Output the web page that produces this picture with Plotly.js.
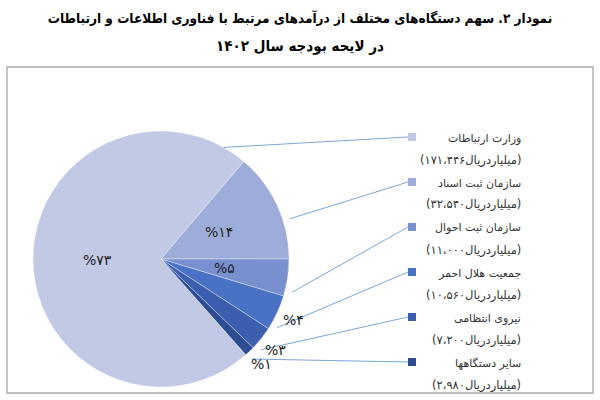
<!DOCTYPE html>
<html>
<head>
<meta charset="utf-8">
<script src="https://cdn.plot.ly/plotly-3.0.1.min.js"></script>
<style>
  html, body { margin: 0; padding: 0; background: #fff; }
  #chart { width: 600px; height: 400px; }
</style>
</head>
<body>
<div id="chart"></div>
<script>
// ------------------------------------------------------------
// data
// ------------------------------------------------------------
const categories = ['وزارت ارتباطات', 'سازمان ثبت اسناد', 'سازمان ثبت احوال', 'جمعیت هلال احمر', 'نیروی انتظامی', 'سایر دستگاهها']
const values = [171446, 32540, 11000, 10560, 7200, 2980]
const valueLabels = ['(۱۷۱،۴۴۶میلیاردریال)', '(۳۲،۵۴۰میلیاردریال)', '(۱۱،۰۰۰میلیاردریال)', '(۱۰،۵۶۰میلیاردریال)', '(۷،۲۰۰میلیاردریال)', '(۲،۹۸۰میلیاردریال)']
const percentLabels = ['%۷۳', '%۱۴', '%۵', '%۴', '%۳', '%۱']

const titleLine1 = 'نمودار ۲. سهم دستگاه‌های مختلف از درآمدهای مرتبط با فناوری اطلاعات و ارتباطات'
const titleLine2 = 'در لایحه بودجه سال ۱۴۰۲'

// ------------------------------------------------------------
// style / geometry
// ------------------------------------------------------------
const W = 600, H = 400
const sliceColors = ['#c1c9e5', '#9eacd9', '#7890d0', '#4a72c4', '#3b5fae', '#2c4c94']
const leaderColor = '#7aa7d6'
const FONT = 'DejaVu Sans, sans-serif'
const TITLE_FONT = 'DejaVu Sans Condensed, DejaVu Sans, sans-serif'
const cx = 161, cy = 259, R = 128   // pie centre / radius in pixels
const rotation = 138.5             // start angle of first slice (clockwise from 12 o'clock)
const insideSlices = 3             // first n slices carry their % inside

const px = x => x / W
const py = y => 1 - y / H

// slice angles (degrees, clockwise from top) — same maths plotly uses
const total = values.reduce((a, b) => a + b, 0)
let acc = rotation
const sliceAngles = values.map(v => {
    const a0 = acc
    acc += v / total * 360
    return [a0, acc]
})
const pointAt = (deg, r) => {
    const t = deg * Math.PI / 180
    return [cx + r * Math.sin(t), cy - r * Math.cos(t)]
}

const annotations = []
const shapes = []

// frame round the chart area
shapes.push({
    type: 'rect', xref: 'paper', yref: 'paper',
    x0: px(7), x1: px(593), y0: py(393), y1: py(67),
    line: { color: '#a8a8a8', width: 1.3 }
})

// second title line
annotations.push({
    text: '<b>' + titleLine2 + '</b>', xref: 'paper', yref: 'paper',
    x: 0.5, y: py(46), xanchor: 'center', yanchor: 'middle', showarrow: false,
    font: { family: TITLE_FONT, size: 15, color: '#000' }
})

// percent labels
sliceAngles.forEach((ang, i) => {
    const mid = (ang[0] + ang[1]) / 2
    const rr = i < insideSlices ? R * 0.5 : R * 1.14
    const p = pointAt(mid, rr)
    annotations.push({
        text: percentLabels[i], xref: 'paper', yref: 'paper',
        x: px(p[0]), y: py(p[1]), xanchor: 'center', yanchor: 'middle', showarrow: false,
        font: { family: FONT, size: 14, color: '#222' }
    })
})

// label boxes on the right with legend keys and leader lines
const boxTop = 137, boxStep = 45, keyX = 412, textRight = 523
categories.forEach((name, i) => {
    const ky = boxTop + boxStep * i
    shapes.push({
        type: 'rect', xref: 'paper', yref: 'paper',
        x0: px(keyX - 4), x1: px(keyX + 4), y0: py(ky + 4), y1: py(ky - 4),
        fillcolor: sliceColors[i], line: { width: 0 }
    })
    annotations.push({
        text: name, xref: 'paper', yref: 'paper',
        x: px(textRight), y: py(ky + 1), xanchor: 'right', yanchor: 'middle', showarrow: false,
        font: { family: FONT, size: 11, color: '#333' }
    })
    annotations.push({
        text: valueLabels[i], xref: 'paper', yref: 'paper',
        x: px(textRight), y: py(ky + 23), xanchor: 'right', yanchor: 'middle', showarrow: false,
        font: { family: FONT, size: 11.5, color: '#333' }
    })

    // leader line: nearest point of the slice towards its label box
    const a0 = sliceAngles[i][0], a1 = sliceAngles[i][1]
    const inset = Math.min((a1 - a0) * 0.15, 11)
    let toward = Math.atan2(keyX - 4 - cx, cy - ky) * 180 / Math.PI
    while (toward < a0) toward += 360
    let ang = toward > a1 - inset ? a1 - inset : toward
    if (ang < a0 + inset) ang = a0 + inset
    const s = pointAt(ang, i === 0 ? R : R + 7)
    shapes.push({
        type: 'line', xref: 'paper', yref: 'paper',
        x0: px(s[0]), y0: py(s[1]), x1: px(keyX - 4), y1: py(ky),
        line: { color: leaderColor, width: 1 }
    })
})

const trace = {
    type: 'pie',
    labels: categories,
    values: values,
    sort: false,
    direction: 'clockwise',
    rotation: rotation,
    textinfo: 'none',
    hoverinfo: 'label+value+percent',
    marker: { colors: sliceColors, line: { color: 'rgba(255,255,255,0.6)', width: 0.6 } },
    domain: { x: [px(cx - R), px(cx + R)], y: [py(cy + R), py(cy - R)] },
    showlegend: false
}

const layout = {
    width: W,
    height: H,
    margin: { l: 0, r: 0, t: 0, b: 0 },
    paper_bgcolor: '#fff',
    title: {
        text: '<b>' + titleLine1 + '</b>',
        x: 0.5, xanchor: 'center',
        y: py(18), yanchor: 'middle', yref: 'container',
        font: { family: TITLE_FONT, size: 13.5, color: '#000' }
    },
    shapes: shapes,
    annotations: annotations
}

Plotly.newPlot('chart', [trace], layout, { displayModeBar: false, staticPlot: true })
</script>
</body>
</html>
